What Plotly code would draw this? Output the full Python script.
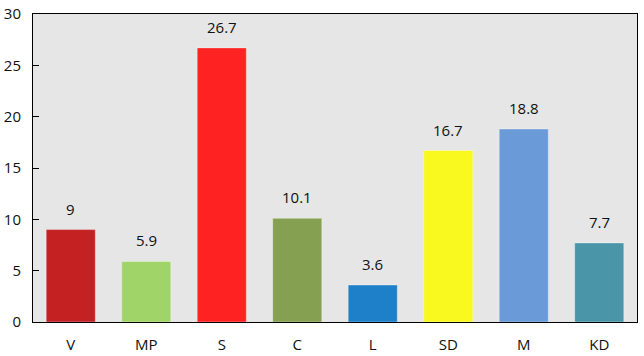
import plotly.graph_objects as go

parties = ["V", "MP", "S", "C", "L", "SD", "M", "KD"]
values = [9, 5.9, 26.7, 10.1, 3.6, 16.7, 18.8, 7.7]
colors = ["#c42222", "#a0d468", "#ff2222", "#84a050", "#1e80c8", "#f9f920", "#6a9bd8", "#4a95a8"]
labels = ["9", "5.9", "26.7", "10.1", "3.6", "16.7", "18.8", "7.7"]
y_ticks = [0, 5, 10, 15, 20, 25, 30]

fig = go.Figure(go.Bar(
    x=parties, y=values, marker=dict(color=colors, line=dict(color="rgba(255,255,255,0.35)", width=1)),
    width=0.65,
))
for p, v, t in zip(parties, values, labels):
    fig.add_annotation(x=p, y=v, text=t, showarrow=False, yanchor="bottom", yshift=9,
                       font=dict(size=15, color="#111111"))

fig.update_layout(
    width=644, height=356,
    margin=dict(l=33, r=7, t=14, b=34, autoexpand=False),
    paper_bgcolor="white", plot_bgcolor="#e6e6e6",
    font=dict(family="Open Sans, Noto Sans, sans-serif", size=14, color="#111111"),
    showlegend=False, bargap=0.35,
)
fig.update_xaxes(showline=True, linecolor="black", linewidth=1, mirror=True, automargin=False,
                 ticks="", tickfont=dict(size=15), showgrid=False, ticklabelstandoff=9)
fig.update_yaxes(range=[0, 30], tickvals=y_ticks, showline=True, linecolor="black", linewidth=1,
                 mirror=True, ticks="inside", ticklen=6, tickcolor="black", automargin=False,
                 showgrid=False, zeroline=False, tickfont=dict(size=15), ticklabelstandoff=8)

fig.write_html("out.html", config={"displayModeBar": False},
               post_script="document.body.style.margin='0';document.body.style.overflow='hidden';")
